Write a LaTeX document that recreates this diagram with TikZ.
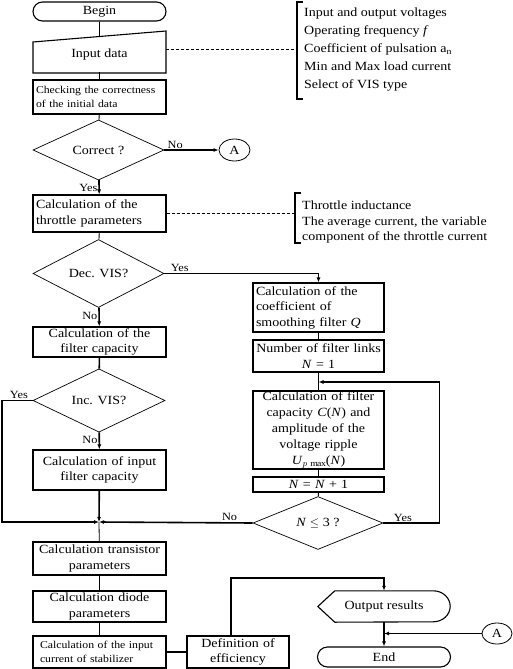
\documentclass[tikz,border=0pt]{standalone}
\usepackage{fontspec}
\setmainfont[FakeStretch=1.12]{Liberation Serif}
\usepackage{tikz}
\usetikzlibrary{shapes.geometric,shapes.misc,arrows.meta}

\begin{document}
\begin{tikzpicture}[x=1pt, y=-1pt, >={Latex[length=5pt,width=4pt]},
        txt/.style={font=\fontsize{12.5}{15.5}\selectfont},
        smalltxt/.style={font=\fontsize{10.5}{14}\selectfont},
        block/.style={rectangle, draw, line width=1.1pt, inner xsep=3pt, inner ysep=0pt, text width=127pt, align=center, txt},
        term/.style={rounded rectangle, draw, line width=1.1pt, minimum width=133pt, minimum height=19pt, inner sep=0pt, txt},
        decision/.style={diamond, draw, line width=0.7pt, inner sep=0pt, txt},
        conn/.style={ellipse, draw, line width=0.8pt, minimum width=31pt, minimum height=22pt, inner sep=0pt, txt},
        flow/.style={line width=1.6pt},
        link/.style={line width=0.8pt},
        lbl/.style={font=\fontsize{11}{13}\selectfont, inner sep=1pt},
        note/.style={dash pattern=on 3pt off 2pt, line width=0.9pt}
    ]
        \useasboundingbox (0,0) rectangle (513,669);

        \node (begin) [term] at (99.5,11.5) {Begin};
        \node (input) [rectangle, minimum width=133pt, minimum height=36pt, inner sep=0pt, txt] at (99.5,54) {Input data};
        \draw[line width=1.1pt] (33,42) -- (166,31) -- (166,73) -- (33,73) -- cycle;
        \node (check) [block, smalltxt, align=left, minimum height=34pt] at (99.5,97) {Checking the correctness\\of the initial data};
        \node (correct) [decision, minimum width=131pt, minimum height=58pt] at (98.5,150) {Correct ?};
        \node (a1) [conn] at (234.5,150) {A};
        \node (throttle) [block, align=left, minimum height=37pt] at (99.5,213.5) {Calculation of the\\throttle parameters};
        \node (dec) [decision, minimum width=131pt, minimum height=57pt] at (98.5,273.5) {Dec. VIS?};
        \node (filtcap) [block, minimum height=30pt] at (99.5,342) {Calculation of the\\filter capacity};
        \node (inc) [decision, minimum width=132pt, minimum height=57pt] at (99,400.5) {Inc. VIS?};
        \node (infilt) [block, minimum height=40pt] at (99.5,470) {Calculation of input\\filter capacity};
        \coordinate (merge) at (99,522);
        \node (trans) [block, minimum height=33pt] at (99.5,558.5) {Calculation transistor\\parameters};
        \node (diode) [block, minimum height=31pt] at (99.5,606.5) {Calculation diode\\parameters};
        \node (incur) [block, smalltxt, align=left, inner xsep=7pt, text width=119pt, minimum height=32pt] at (99.5,652) {Calculation of the input\\current of stabilizer};
        \node (defn) [block, text width=96pt, minimum height=32pt] at (238,652) {Definition of\\efficiency};

        \node (coef) [block, align=left, text width=125pt, minimum height=49pt] at (318.5,307.5) {Calculation of the\\coefficient of\\smoothing filter \textit{Q}};
        \node (num) [block, text width=125pt, minimum height=32pt] at (318.5,356) {Number of filter links\\\textit{N} = 1};
        \coordinate (loopjoin) at (318.5,382);
        \node (cn) [block, text width=125pt, minimum height=78pt, font=\fontsize{12.5}{16}\selectfont] at (318.5,430) {Calculation of filter\\capacity \textit{C}(\textit{N}) and\\amplitude of the\\voltage ripple\\\textit{U}$_{p\,\max}$(\textit{N})};
        \node (nn1) [block, text width=125pt, minimum height=15pt] at (318.5,484.5) {\textit{N} = \textit{N} + 1};
        \node (nle) [decision, minimum width=130pt, minimum height=40pt] at (318,523) {\textit{N} $\le$ 3 ?};

        \node (output) [rectangle, minimum width=132pt, minimum height=31pt, inner sep=0pt, txt] at (384,606.5) {Output results};
        \draw[line width=1.1pt] (output.west) -- ([xshift=17pt]output.north west) -- ([xshift=-17pt]output.north east) arc[start angle=90, end angle=-90, x radius=17pt, y radius=15.5pt] -- ([xshift=17pt]output.south west) -- cycle;
        \node (end) [term, minimum height=20pt] at (384,657) {End};
        \node (a2) [conn, minimum width=30pt, minimum height=21pt] at (497,633.5) {A};

        \draw[line width=1.1pt] (303,2) -- (297,2) -- (297,99) -- (303,99);
        \node (inlist) [anchor=north west, align=left, inner sep=0pt, font=\fontsize{12.5}{18}\selectfont] at (304,8) {Input and output voltages\\Operating frequency \textit{f}\\Coefficient of pulsation a\textsubscript{n}\\Min and Max load current\\Select of VIS type};
        \coordinate (inl) at (297,49);
        \draw[note] (inl -| input.east) -- (inl);

        \draw[line width=1.1pt] (301,193) -- (295,193) -- (295,243) -- (301,243);
        \node (thrlist) [anchor=north west, align=left, inner sep=0pt, txt] at (302,201) {Throttle inductance\\The average current, the variable\\component of the throttle current};
        \coordinate (thl) at (295,213.5);
        \draw[note] (throttle.east) -- (thl);

        \draw[link] (begin) -- (input);
        \draw[link] (input.south) -- (check);
        \draw[link] (check) -- (correct);
        \draw[flow, ->] (correct) -- node[lbl, pos=0.2, above] {No} (a1);
        \draw[flow, ->] (correct) -- node[lbl, pos=0.55, left] {Yes} (throttle);
        \draw[link] (throttle) -- (dec);
        \draw[flow, ->] (dec.east) -- node[lbl, pos=0.1, above] {Yes} (dec.east -| coef.north) -- (coef.north);
        \draw[flow, ->] (dec) -- node[lbl, pos=0.45, left] {No} (filtcap);
        \draw[flow] (filtcap) -- (inc);
        \draw[flow, ->] (inc) -- node[lbl, pos=0.45, left] {No} (infilt);
        \draw[flow, ->] (inc.west) -- node[lbl, pos=0.45, above] {Yes} (2,400.5) |- (merge);
        \draw[flow, ->] (infilt) -- (merge);
        \draw[flow, ->] (nle.west) -- node[lbl, pos=0.15, above] {No} (merge);
        \draw[link] (merge) -- (trans);
        \draw[link] (trans) -- (diode);
        \draw[link] (diode) -- (incur);
        \draw[flow] (incur) -- (defn);
        \coordinate (turn) at (231,578);
        \draw[flow, ->] (defn.north -| turn) -- (turn) -| (output.north);
        \draw[flow, ->] (output.south) -- (end);
        \draw[flow, ->] (a2) -- (a2 -| output.south);

        \draw[link] (coef) -- (num);
        \draw[link] (num) -- (cn);
        \draw[link] (cn) -- (nn1);
        \draw[link] (nn1) -- (nle);
        \draw[flow, ->] (nle.east) -- node[lbl, pos=0.35, above] {Yes} ++(56,0) |- (loopjoin);
    \end{tikzpicture}
\end{document}
